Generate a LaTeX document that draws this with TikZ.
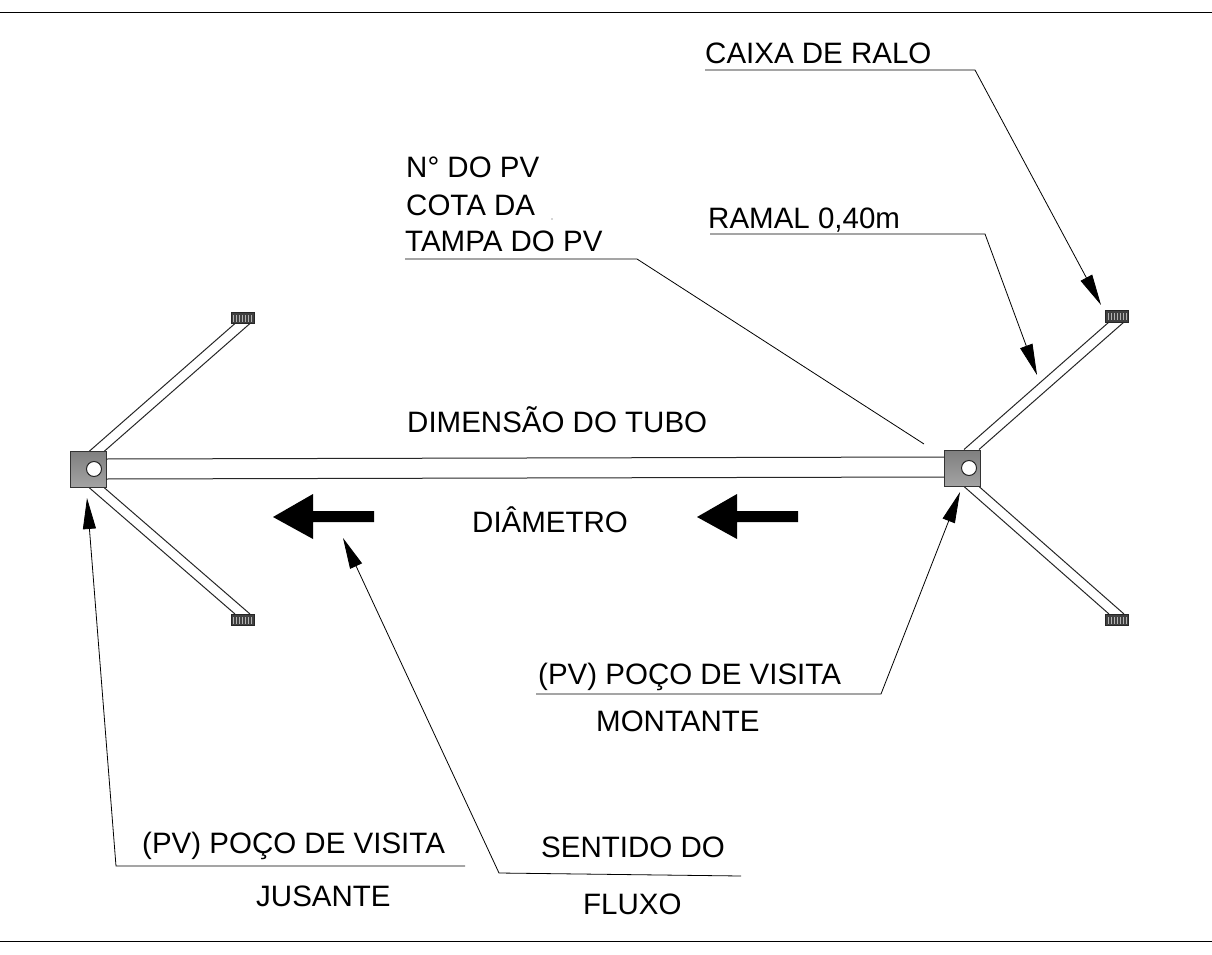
\documentclass[tikz,border=0pt]{standalone}
\usepackage{fontspec}
\setmainfont{Liberation Sans}
\usetikzlibrary{arrows.meta}
\tikzset{
  lbl/.style={anchor=base west,inner sep=0pt,font=\fontsize{29.5}{32}\selectfont},
  pv/.style={draw=black!80,line width=1pt,minimum size=36pt,inner sep=0pt,shading=axis,top color=black!50,bottom color=black!36},
  hole/.style={circle,draw=black!85,fill=white,line width=1pt,minimum size=15pt,inner sep=0pt},
  ralo/.style={draw=black!85,fill=black!75,line width=.8pt,minimum width=23pt,minimum height=11.5pt,inner sep=0pt},
  pipe/.style={draw=black!85,line width=1pt},
  leader/.style={draw=black,line width=.8pt},
  tip/.style={leader,-{Triangle[length=31pt,width=13pt]}},
  rule/.style={draw=black,line width=1pt},
  flow/.style={draw=none,fill=black}
}
\newcommand{\grate}[1]{\foreach \d in {-9,-6,-3,0,3,6,9}{\draw[white!70!black,line width=.7pt] ([xshift=\d pt,yshift=-3.5pt]#1.center) -- ([xshift=\d pt,yshift=3.5pt]#1.center);}}
\begin{document}
\begin{tikzpicture}[x=1pt,y=-1pt]
\useasboundingbox (0,0) rectangle (1212,955);
\coordinate (ruleTL) at (0,13); \coordinate (ruleTR) at (1212,13);
\coordinate (ruleBL) at (0,941); \coordinate (ruleBR) at (1212,941);
\draw[rule] (ruleTL) -- (ruleTR);
\draw[rule] (ruleBL) -- (ruleBR);

% ramais
\node[ralo] (rRU) at (1117,316.5) {};
\node[ralo] (rRD) at (1117,620) {};
\node[ralo] (rLU) at (242.5,318) {};
\node[ralo] (rLD) at (242.5,620) {};
\grate{rRU}\grate{rRD}\grate{rLU}\grate{rLD}
\draw[pipe] (964,449.5) -- (1109,322) (979,449.5) -- (1124,322);
\draw[pipe] (964,486.5) -- (1109,614) (979,486.5) -- (1124,614);
\draw[pipe] (89,451.5) -- (235,323.5) (104,451.5) -- (250,323.5);
\draw[pipe] (89,487.5) -- (235,614) (104,487.5) -- (250,614);

% PVs
\node[pv] (pvJ) at (88,469.5) {};
\node[pv] (pvM) at (962,468) {};
\node[hole] (holeJ) at (94,469) {};
\node[hole] (holeM) at (969,468) {};
\draw[pipe] (106,459) -- (944,457) (106,479) -- (944,477);

% flow arrows
\path[flow] (273,517) -- (313,494) -- (313,511) -- (374,511) -- (374,522) -- (313,522) -- (313,539) -- cycle;
\path[flow] (697,517) -- (737,494) -- (737,511) -- (798,511) -- (798,522) -- (737,522) -- (737,539) -- cycle;

% labels
\node[lbl] (tCaixa) at (705,64) {CAIXA DE RALO};
\node[lbl] (tRamal) at (708,228) {RAMAL 0,40m};
\node[lbl] (tNum) at (406,177) {N° DO PV};
\node[lbl] (tCota) at (406,215) {COTA DA};
\node[lbl] (tTampa) at (405,251) {TAMPA DO PV};
\node[lbl] (tDim) at (407,432) {DIMENSÃO DO TUBO};
\node[lbl] (tDiam) at (472,532) {DIÂMETRO};
\node[lbl] (tPvM) at (538,684) {(PV) POÇO DE VISITA};
\node[lbl] (tMont) at (596,731) {MONTANTE};
\node[lbl] (tPvJ) at (142,853) {(PV) POÇO DE VISITA};
\node[lbl] (tJus) at (256,906) {JUSANTE};
\node[lbl] (tSent) at (541,857) {SENTIDO DO};
\node[lbl] (tFlux) at (583,914) {FLUXO};
\fill[black!70] (552,219) circle (.6);

% leaders
\draw[tip] (705,70) -- (975,70) -- (1101,305);
\draw[tip] (710,234) -- (985,234) -- (1037,375);
\draw[leader] (405,259) -- (637,259) -- (924,444);
\draw[tip] (536,694) -- (881,694) -- (960,492);
\draw[tip] (465,866) -- (116,866) -- (87,498);
\draw[tip] (741,876) -- (499,873) -- (343,538);
\end{tikzpicture}
\end{document}
